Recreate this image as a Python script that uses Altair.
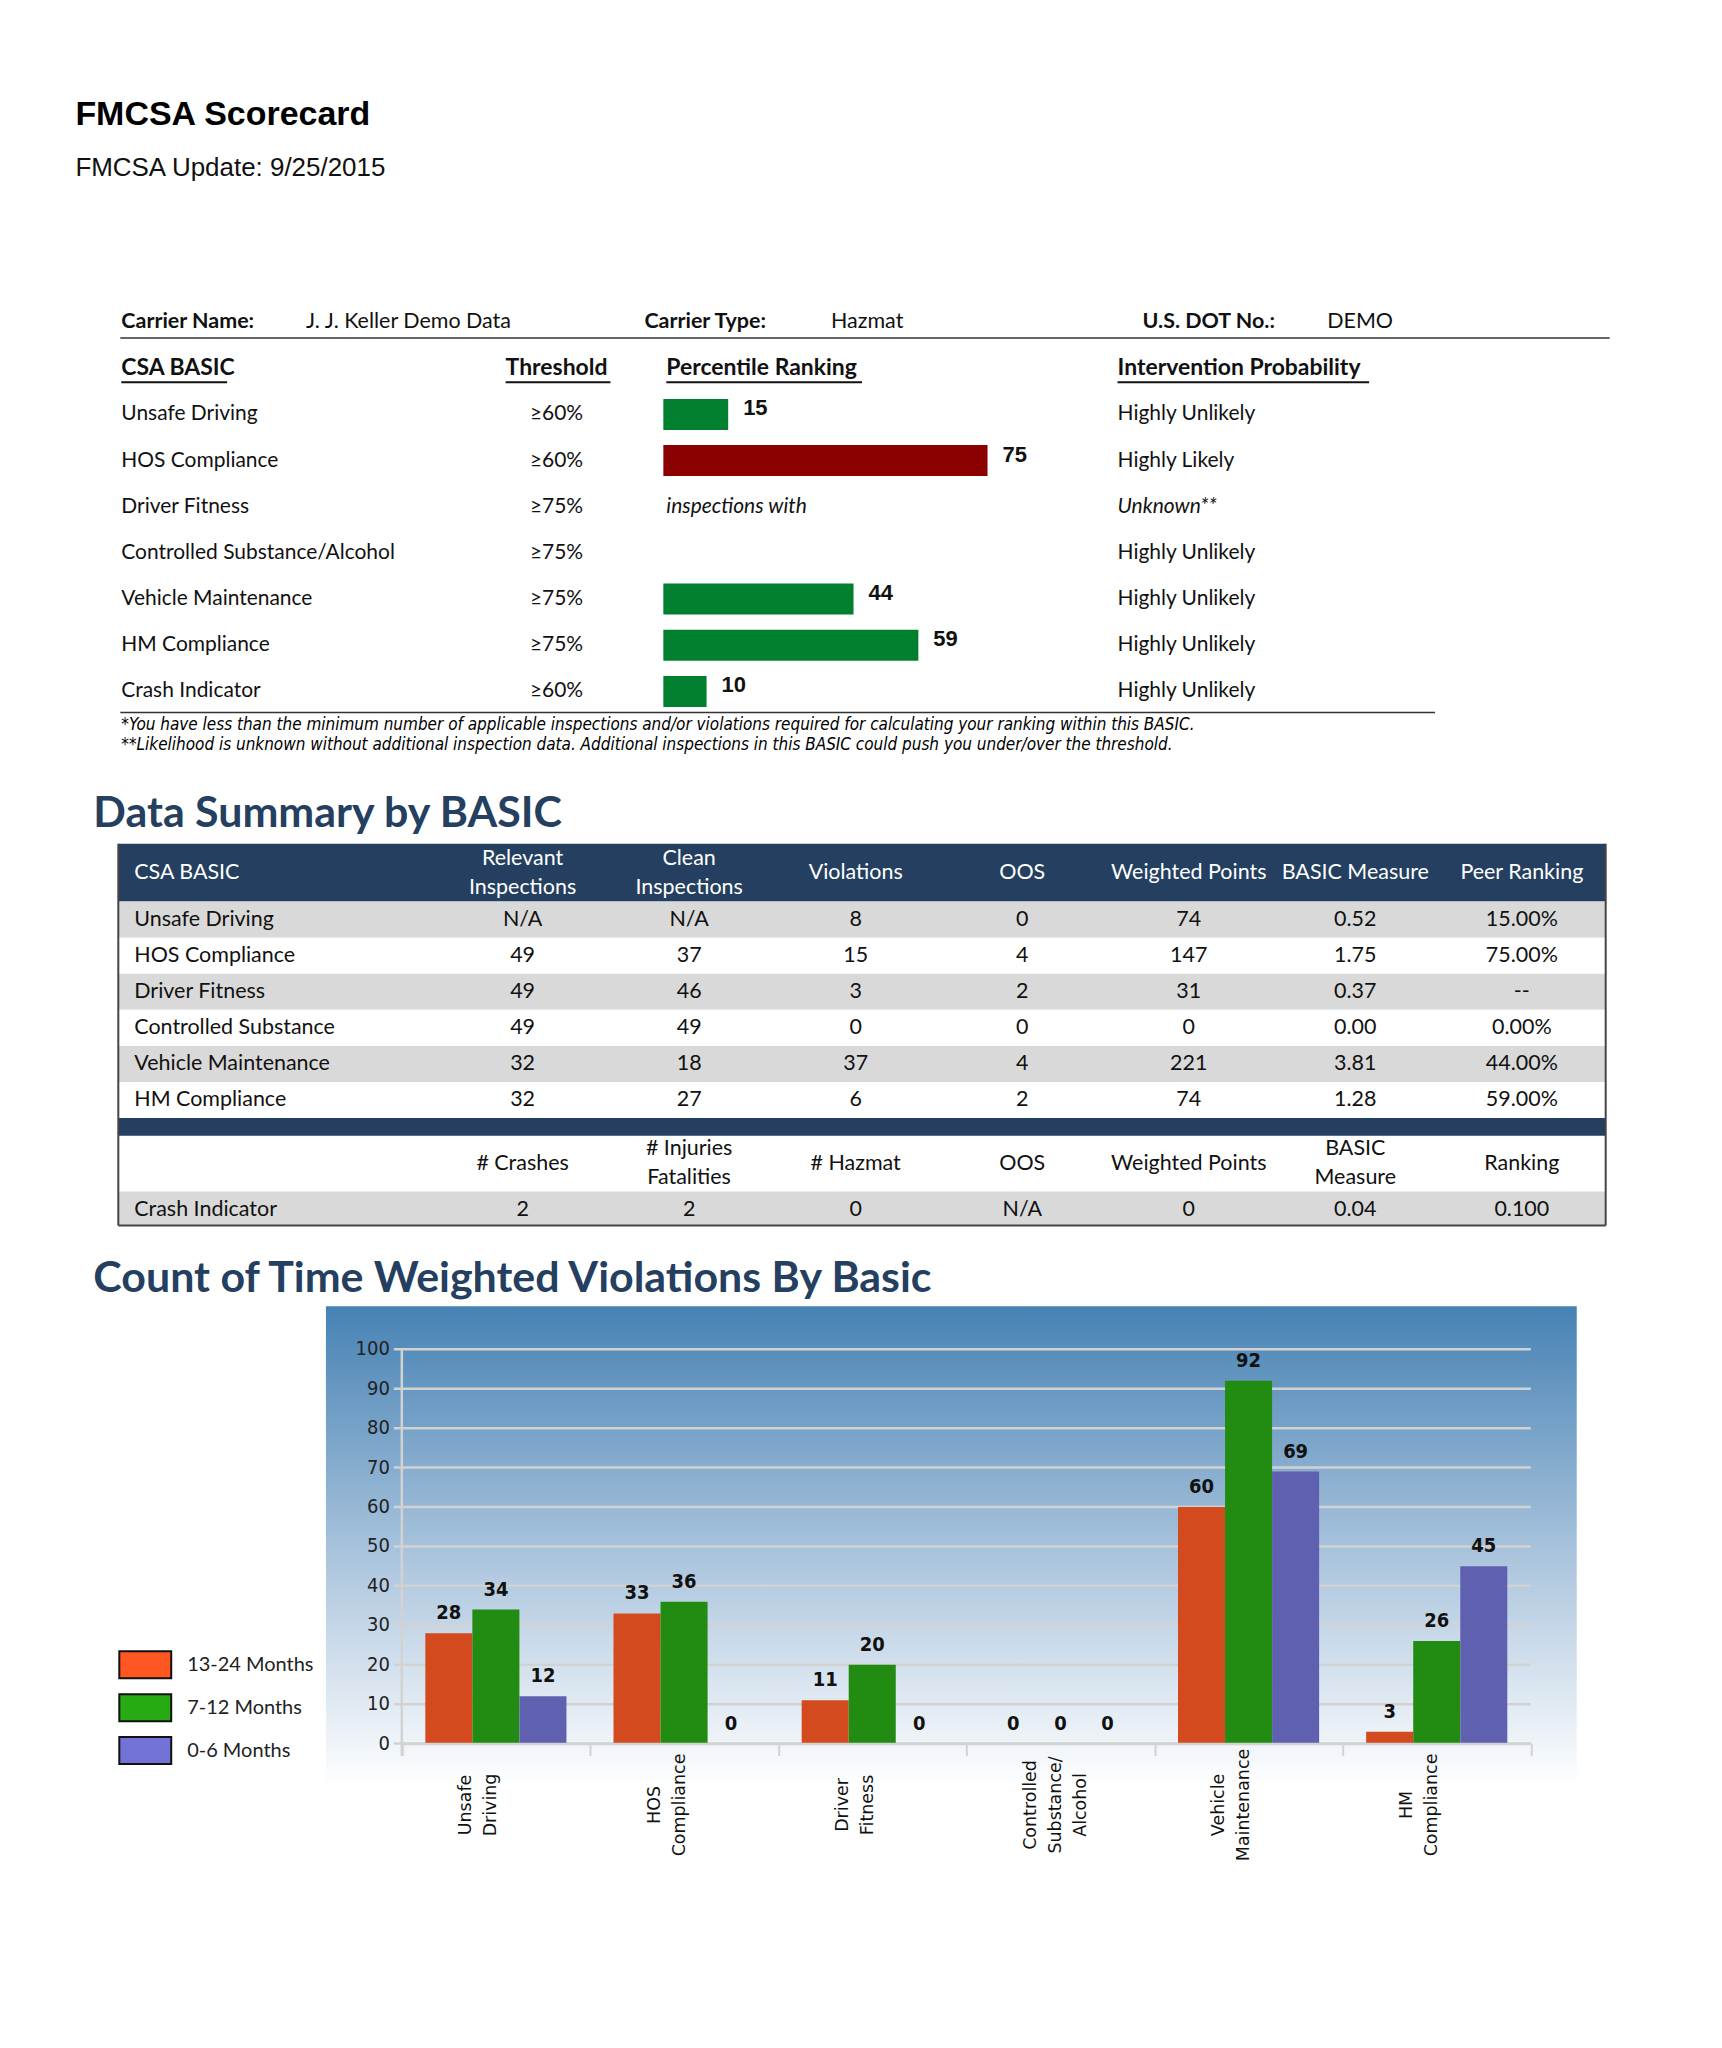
import altair as alt
import pandas as pd

# ---------------- data ----------------
TITLE = "FMCSA Scorecard"
SUBTITLE = "FMCSA Update: 9/25/2015"

CARRIER_LABELS = ["Carrier Name:", "Carrier Type:", "U.S. DOT No.:"]
CARRIER_VALUES = ["J. J. Keller Demo Data", "Hazmat", "DEMO"]

SC_HEADERS = ["CSA BASIC", "Threshold", "Percentile Ranking", "Intervention Probability"]
SC_BASICS = ["Unsafe Driving", "HOS Compliance", "Driver Fitness",
             "Controlled Substance/Alcohol", "Vehicle Maintenance",
             "HM Compliance", "Crash Indicator"]
SC_THRESHOLD = [60, 60, 75, 75, 75, 75, 60]
SC_PERCENTILE = [15, 75, None, None, 44, 59, 10]
SC_NOTE = ["", "", "inspections with", "", "", "", ""]
SC_PROBABILITY = ["Highly Unlikely", "Highly Likely", "Unknown**", "Highly Unlikely",
                  "Highly Unlikely", "Highly Unlikely", "Highly Unlikely"]
FOOTNOTES = [
    "*You have less than the minimum number of applicable inspections and/or violations required for calculating your ranking within this BASIC.",
    "**Likelihood is unknown without additional inspection data.  Additional inspections in this BASIC could push you under/over the threshold.",
]

DS_TITLE = "Data Summary by BASIC"
DS_HEADERS = ["CSA BASIC", "Relevant\nInspections", "Clean\nInspections", "Violations",
              "OOS", "Weighted Points", "BASIC Measure", "Peer Ranking"]
DS_BASICS = ["Unsafe Driving", "HOS Compliance", "Driver Fitness",
             "Controlled Substance", "Vehicle Maintenance", "HM Compliance"]
DS_RELEVANT = ["N/A", "49", "49", "49", "32", "32"]
DS_CLEAN = ["N/A", "37", "46", "49", "18", "27"]
DS_VIOLATIONS = ["8", "15", "3", "0", "37", "6"]
DS_OOS = ["0", "4", "2", "0", "4", "2"]
DS_WEIGHTED = ["74", "147", "31", "0", "221", "74"]
DS_MEASURE = ["0.52", "1.75", "0.37", "0.00", "3.81", "1.28"]
DS_PEER = ["15.00%", "75.00%", "--", "0.00%", "44.00%", "59.00%"]
CR_HEADERS = ["", "# Crashes", "# Injuries\nFatalities", "# Hazmat", "OOS",
              "Weighted Points", "BASIC\nMeasure", "Ranking"]
CR_VALUES = ["Crash Indicator", "2", "2", "0", "N/A", "0", "0.04", "0.100"]

VC_TITLE = "Count of Time Weighted Violations By Basic"
VC_CATEGORIES = ["Unsafe|Driving", "HOS|Compliance", "Driver|Fitness",
                 "Controlled|Substance/|Alcohol", "Vehicle|Maintenance", "HM|Compliance"]
VC_SERIES = ["13-24 Months", "7-12 Months", "0-6 Months"]
VC_13_24 = [28, 33, 11, 0, 60, 3]
VC_7_12 = [34, 36, 20, 0, 92, 26]
VC_0_6 = [12, 0, 0, 0, 69, 45]
VC_TICKS = [0, 10, 20, 30, 40, 50, 60, 70, 80, 90, 100]

# ---------------- styles ----------------
SANS = "Lato, 'Open Sans', sans-serif"
ARIAL = "'Liberation Sans', Arial, sans-serif"
NARROW = "'Liberation Sans Narrow', 'DejaVu Sans Condensed', 'Liberation Sans', sans-serif"
INK = "#111111"
NAVY = "#243F60"
GREEN = "#00802F"
RED = "#8B0000"
STRIPE = "#D9D9D9"
GRID = "#D2D2D2"
BAR_COLORS = ["#D34A1E", "#228B12", "#6060B0"]
LEGEND_COLORS = ["#FF5722", "#28AA14", "#7373D7"]
W = 1700
SX = 6.5  # horizontal layout correction


def vx(v):
    return alt.value(v - SX)


def txt(df, x, y, field="t", **kw):
    base = dict(align="left", baseline="middle", font=SANS, fontSize=21, color=INK)
    base.update(kw)
    return alt.Chart(df).mark_text(**base).encode(x=x, y=y, text=alt.Text(f"{field}:N"))


MULTI = "indexof(datum.t, '\\n') >= 0"
SINGLE = "indexof(datum.t, '\\n') < 0"

# ================= Section A : scorecard =================
A_H = 762
ROWS_A = ["carrier", "header"] + SC_BASICS
yA = alt.Y("row:N", scale=alt.Scale(type="band", domain=ROWS_A, range=[289.875, 706.125],
                                    paddingInner=0, paddingOuter=0), axis=None)

sc = pd.DataFrame({"row": SC_BASICS, "thr": SC_THRESHOLD, "pct": SC_PERCENTILE,
                   "note": SC_NOTE, "prob": SC_PROBABILITY})
sc["thr_t"] = ["\u2265" + str(t) + "%" for t in SC_THRESHOLD]

CAR_LABEL_X = [111, 635, 1134]
CAR_VALUE_X = [296, 822, 1319]
HDR_X = [111, 496, 657, 1109]
HDR_W = [106, 105, 196, 252]

a_layers = []
a_layers.append(txt(pd.DataFrame({"t": [TITLE]}), vx(65), alt.value(106),
                    font=ARIAL, fontSize=34, fontWeight="bold", color="#000"))
a_layers.append(txt(pd.DataFrame({"t": [SUBTITLE]}), vx(65), alt.value(158.5),
                    font=ARIAL, fontSize=26, color="#111"))
for i in range(3):
    a_layers.append(txt(pd.DataFrame({"row": ["carrier"], "t": [CARRIER_LABELS[i]]}),
                        vx(CAR_LABEL_X[i]), yA, fontSize=21.5, fontWeight="bold"))
    a_layers.append(txt(pd.DataFrame({"row": ["carrier"], "t": [CARRIER_VALUES[i]]}),
                        vx(CAR_VALUE_X[i]), yA, fontSize=21.5))
a_layers.append(alt.Chart(pd.DataFrame({"row": ["carrier"]})).mark_rule(
    yOffset=16, strokeWidth=1.5, color="#333").encode(y=yA, x=vx(110), x2=vx(1602)))
for i in range(4):
    a_layers.append(txt(pd.DataFrame({"row": ["header"], "t": [SC_HEADERS[i]]}),
                        vx(HDR_X[i]), yA, fontSize=23, fontWeight="bold"))
    a_layers.append(alt.Chart(pd.DataFrame({"row": ["header"]})).mark_rule(
        yOffset=14, strokeWidth=2, color="#111").encode(
        y=yA, x=vx(HDR_X[i]), x2=vx(HDR_X[i] + HDR_W[i])))
a_layers.append(txt(sc, vx(111), yA, field="row"))
a_layers.append(txt(sc, vx(547), yA, field="thr_t", align="center"))
xPct = alt.X("pct:Q", scale=alt.Scale(domain=[0, 100], range=[654 - SX, 1087 - SX]), axis=None)
a_layers.append(alt.Chart(sc).transform_filter("isValid(datum.pct)").mark_bar(size=31).encode(
    x=xPct, y=yA,
    color=alt.condition("datum.pct >= datum.thr", alt.value(RED), alt.value(GREEN))))
a_layers.append(alt.Chart(sc).transform_filter("isValid(datum.pct)").mark_text(
    align="left", baseline="middle", dx=15, dy=-6, font=ARIAL, fontSize=22,
    fontWeight="bold", color=INK).encode(x=xPct, y=yA, text=alt.Text("pct:Q", format="d")))
a_layers.append(txt(sc, vx(657), yA, field="note", fontStyle="italic")
                .transform_filter("datum.note != ''"))
a_layers.append(txt(sc, vx(1109), yA, field="prob")
                .transform_filter("datum.prob != 'Unknown**'"))
a_layers.append(txt(sc, vx(1109), yA, field="prob", fontStyle="italic")
                .transform_filter("datum.prob == 'Unknown**'"))
a_layers.append(alt.Chart(pd.DataFrame({"row": ["Crash Indicator"]})).mark_rule(
    yOffset=21, strokeWidth=1.5, color="#333").encode(y=yA, x=vx(110), x2=vx(1427)))
for i, fy in enumerate([717, 737]):
    a_layers.append(txt(pd.DataFrame({"t": [FOOTNOTES[i]]}), vx(111), alt.value(fy),
                        font=NARROW, fontSize=17, fontStyle="italic", color="#000"))

A = alt.layer(*a_layers).properties(width=W, height=A_H)

# ================= Section B : data summary table =================
B_H = 470
TL, TR = 108, 1598
xCol = alt.X("ci:Q", scale=alt.Scale(domain=[1, 7], range=[513 - SX, 1514 - SX]), axis=None)
yB = alt.Y("row:N", scale=alt.Scale(type="band", domain=DS_BASICS, range=[131.5, 348.4],
                                    paddingInner=0, paddingOuter=0), axis=None)

body_cols = [DS_RELEVANT, DS_CLEAN, DS_VIOLATIONS, DS_OOS, DS_WEIGHTED, DS_MEASURE, DS_PEER]
body = pd.DataFrame([{"row": b, "ci": c + 1, "t": col[r]}
                     for r, b in enumerate(DS_BASICS) for c, col in enumerate(body_cols)])
stripes = pd.DataFrame({"row": DS_BASICS, "odd": [i % 2 for i in range(len(DS_BASICS))]})
hdr = pd.DataFrame({"ci": list(range(1, 8)), "t": DS_HEADERS[1:]})
hdr2 = pd.DataFrame({"ci": list(range(1, 8)), "t": CR_HEADERS[1:]})
crash = pd.DataFrame({"ci": list(range(1, 8)), "t": CR_VALUES[1:]})
TFS = 21.5
LH = 29


def band_rect(y0, y1, fill):
    return alt.Chart(pd.DataFrame({"k": [0]})).mark_rect(fill=fill).encode(
        x=vx(TL), x2=vx(TR), y=alt.value(y0), y2=alt.value(y1))


def header_layers(df, yc, color):
    return [
        txt(df, xCol, alt.value(yc), fontSize=TFS, color=color, align="center")
        .transform_filter(SINGLE),
        txt(df, xCol, alt.value(yc), fontSize=TFS, color=color, align="center",
            lineHeight=LH, lineBreak="\n", dy=-LH / 2).transform_filter(MULTI),
    ]


b_layers = [
    txt(pd.DataFrame({"t": [DS_TITLE]}), vx(83), alt.value(44),
        fontSize=43, fontWeight="bold", color=NAVY),
    band_rect(73.5, 131.5, NAVY),
    alt.Chart(stripes).mark_rect().encode(
        x=vx(TL), x2=vx(TR), y=yB,
        fill=alt.condition("datum.odd == 0", alt.value(STRIPE), alt.value("#FFFFFF"))),
    band_rect(348.4, 366, NAVY),
    band_rect(422, 456, STRIPE),
    txt(pd.DataFrame({"t": [DS_HEADERS[0]]}), vx(124), alt.value(103),
        fontSize=TFS, color="#FFFFFF"),
    *header_layers(hdr, 103, "#FFFFFF"),
    txt(stripes.assign(t=stripes["row"]), vx(124), yB, fontSize=TFS),
    txt(body, xCol, yB, fontSize=TFS, align="center"),
    *header_layers(hdr2, 394, INK),
    txt(pd.DataFrame({"t": [CR_VALUES[0]]}), vx(124), alt.value(440), fontSize=TFS),
    txt(crash, xCol, alt.value(440), fontSize=TFS, align="center"),
]
for (x0, x1, y0, y1) in [(TL, TL, 73.5, 456), (TR, TR, 73.5, 456), (TL, TR, 456, 456)]:
    b_layers.append(alt.Chart(pd.DataFrame({"k": [0]})).mark_rule(
        color="#444", strokeWidth=2).encode(
        x=vx(x0), x2=vx(x1), y=alt.value(y0), y2=alt.value(y1)))

B = alt.layer(*b_layers).properties(width=W, height=B_H)

# ================= Section C : bar chart =================
C_H = 505
vals = [VC_13_24, VC_7_12, VC_0_6]
bars = pd.DataFrame([{"cat": c, "series": s, "v": vals[j][i]}
                     for i, c in enumerate(VC_CATEGORIES) for j, s in enumerate(VC_SERIES)])
ticks = pd.DataFrame({"v": VC_TICKS, "t": [str(t) for t in VC_TICKS]})

yC = alt.Y("v:Q", scale=alt.Scale(domain=[0, 100], range=[505, 110], nice=False), axis=None)
x_axis = alt.Axis(title=None, grid=False, zindex=2, domainColor=GRID, domainWidth=2.5,
                  tickColor=GRID, tickWidth=2, tickSize=12, tickBand="extent", labelAngle=270,
                  labelAlign="center", labelBaseline="middle", labelPadding=49,
                  labelOffset=-30, labelLimit=400,
                  labelFont="DejaVu Sans", labelFontSize=17.5, labelColor=INK,
                  labelLineHeight=25, labelOverlap=False, labelBound=False,
                  labelExpr="split(datum.label, '|')")
xC = alt.X("cat:N", scale=alt.Scale(domain=VC_CATEGORIES, range=[392 - SX, 1523 - SX],
                                    paddingInner=0, paddingOuter=0), axis=x_axis, sort=VC_CATEGORIES)
xo = alt.XOffset("series:N", scale=alt.Scale(domain=VC_SERIES, paddingInner=0, paddingOuter=0.5),
                 sort=VC_SERIES)

panel_fill = {"gradient": "linear", "x1": 0, "x2": 0, "y1": 0, "y2": 1,
              "stops": [{"offset": 0, "color": "#4682B4"},
                        {"offset": 0.55, "color": "#B0C8DF"},
                        {"offset": 1, "color": "#FFFFFF"}]}

yLeg = alt.Y("series:N", scale=alt.Scale(type="point", domain=VC_SERIES, range=[426, 512],
                                         padding=0), axis=None)

c_layers = [
    txt(pd.DataFrame({"t": [VC_TITLE]}), vx(83), alt.value(40),
        fontSize=43, fontWeight="bold", color=NAVY),
    alt.Chart(pd.DataFrame({"k": [0]})).mark_rect(fill=panel_fill).encode(
        x=vx(316), x2=vx(1569), y=alt.value(67), y2=alt.value(548)),
    alt.Chart(ticks).mark_rule(color=GRID, strokeWidth=2.5).encode(
        y=yC, x=vx(384), x2=vx(1523)),
    alt.Chart(pd.DataFrame({"v": [100]})).mark_rule(color=GRID, strokeWidth=2.5).encode(
        y=yC, y2=alt.value(517), x=vx(392)),
    txt(ticks, vx(380), yC, align="right", font=NARROW, fontSize=20, color="#222"),
    alt.Chart(bars).mark_bar().encode(
        x=xC, xOffset=xo, y=yC,
        color=alt.Color("series:N", scale=alt.Scale(domain=VC_SERIES, range=BAR_COLORS),
                        legend=None)),
    alt.Chart(bars).mark_text(baseline="alphabetic", dy=-14, font=NARROW, fontSize=20,
                              fontWeight="bold", color=INK).encode(
        x=xC, xOffset=xo, y=yC, text=alt.Text("v:Q", format="d")),
    alt.Chart(pd.DataFrame({"series": VC_SERIES})).mark_point(
        shape="M-1,-0.52H1V0.52H-1Z", size=2704, filled=True, opacity=1,
        stroke="#111", strokeWidth=2).encode(
        x=vx(135), y=yLeg,
        color=alt.Color("series:N", scale=alt.Scale(domain=VC_SERIES, range=LEGEND_COLORS),
                        legend=None)),
    txt(pd.DataFrame({"series": VC_SERIES}), vx(177), yLeg, field="series",
        fontSize=20, color="#222"),
]

C = alt.layer(*c_layers).resolve_scale(y="independent", color="independent").properties(
    width=W, height=C_H)

chart = alt.vconcat(A, B, C, spacing=0).properties(padding=0).configure_view(strokeWidth=0)
chart.save("out.html", embed_options={"renderer": "svg", "actions": False})
